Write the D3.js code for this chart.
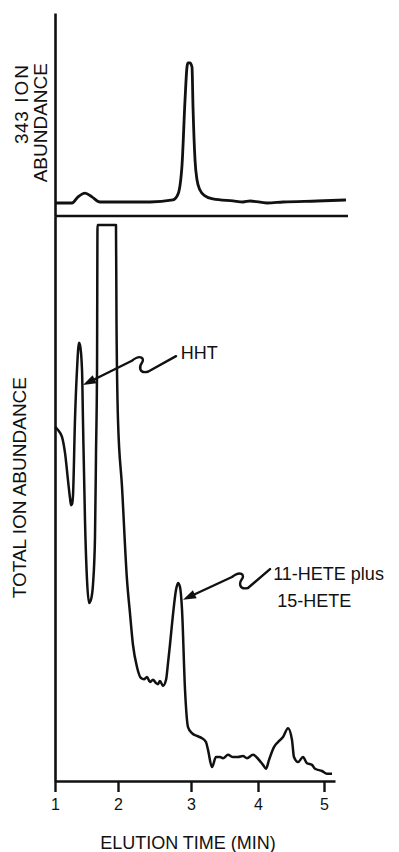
<!DOCTYPE html>
<html>
<head>
<meta charset="utf-8">
<script src="https://cdn.jsdelivr.net/npm/d3@7"></script>
<style>
  html, body { margin: 0; padding: 0; background: #fff; }
  svg { display: block; font-family: "Liberation Sans", Arial, Helvetica, sans-serif; }
</style>
</head>
<body>
<svg width="399" height="852"></svg>
<script>
// elution axis ticks (min)
const timeTicks = [1, 2, 3, 4, 5];

// 343 ion trace
const ionTime = [1.000, 1.270, 1.365, 1.476, 1.587, 1.714, 1.984, 2.438, 2.753, 2.822, 2.877, 2.918, 2.945,
  2.959, 2.986, 3.015, 3.030, 3.060, 3.090, 3.134, 3.209, 3.328, 3.627, 3.776, 3.881, 4.136, 4.379, 4.894, 5.333];
const ionAbund = [6.4, 6.4, 9.4, 11.3, 9.4, 6.9, 6.9, 6.9, 7.9, 10.8, 25.1, 57.1, 73.4,
  75.4, 75.4, 73.4, 53.7, 27.6, 17.7, 12.8, 9.9, 8.4, 7.4, 6.9, 7.4, 6.4, 6.9, 7.4, 7.9];

// total ion trace (100 = off scale)
const totalTime = [1.000, 1.048, 1.111, 1.159, 1.206, 1.238, 1.254, 1.270, 1.286, 1.317, 1.349, 1.381, 1.397,
  1.429, 1.444, 1.476, 1.508, 1.540, 1.571, 1.603, 1.635, 1.651, 1.667, 1.675, 1.968, 1.976, 2.000, 2.055,
  2.123, 2.164, 2.205, 2.260, 2.315, 2.356, 2.397, 2.438, 2.479, 2.521, 2.548, 2.575, 2.616, 2.658, 2.685,
  2.712, 2.753, 2.795, 2.822, 2.849, 2.877, 2.918, 2.959, 3.015, 3.090, 3.164, 3.224, 3.254, 3.313, 3.373,
  3.433, 3.478, 3.552, 3.627, 3.701, 3.776, 3.836, 3.925, 4.000, 4.076, 4.121, 4.167, 4.242, 4.303, 4.379,
  4.455, 4.515, 4.545, 4.606, 4.682, 4.742, 4.818, 4.864, 4.970, 5.045, 5.121];
const totalAbund = [63.7, 63.1, 61.9, 59.0, 54.1, 50.9, 49.6, 49.8, 51.4, 64.9, 73.9, 78.8, 78.4,
  73.9, 64.9, 46.9, 36.2, 32.0, 32.6, 35.3, 43.9, 59.0, 73.9, 100, 100, 82.9, 64.9, 52.9,
  36.2, 30.2, 24.5, 20.5, 18.5, 18.3, 18.7, 17.8, 18.2, 17.6, 17.4, 18.0, 17.1, 18.2, 21.2,
  24.5, 29.9, 34.4, 35.6, 34.9, 30.8, 16.4, 9.7, 8.6, 8.1, 7.7, 7.0, 5.6, 2.5, 4.3,
  4.3, 4.1, 4.7, 4.3, 4.3, 4.5, 4.1, 4.7, 4.0, 2.9, 2.2, 3.8, 6.1, 7.0, 7.9,
  9.5, 7.4, 4.3, 3.4, 4.3, 3.2, 2.9, 2.2, 1.8, 1.3, 1.3];

// peak labels and their arrows (time, total ion abundance)
const labelLines = [["HHT"], ["11-HETE plus", "15-HETE"]];
const labelTime = [2.86, 4.23];
const labelAbund = [75.9, 36.2];
const arrowStartTime = [2.795, 4.182];
const arrowStartAbund = [76.4, 38.1];
const arrowHookTime = [2.41, 3.85];
const arrowHookAbund = [73.6, 34.7];
const arrowTipTime = [1.444, 2.89];
const arrowTipAbund = [71.2, 32.6];

const svg = d3.select("svg");
const left = 55, axisEnd = 335, topLineEnd = 348;
const topY0 = 13, topBase = 216, bottomBase = 781;

// the printed axis is slightly uneven, so the scale follows the printed ticks
const x = d3.scaleLinear()
  .domain([1, 2, 3, 4, 5, 5 + (axisEnd - 324) / 66])
  .range([left, 118, 191, 258, 324, axisEnd]);

const yTop = d3.scaleLinear().domain([0, 100]).range([topBase, topY0]);
const yTotal = d3.scaleLinear().domain([0, 101.6]).range([bottomBase, topBase]);

const stroke = "#111";

// axes
svg.append("g")
  .attr("transform", `translate(${left},0)`)
  .call(d3.axisLeft(yTop).ticks(0).tickSizeOuter(0))
  .call(g => g.select(".domain").attr("stroke", stroke).attr("stroke-width", 2.6));

svg.append("g")
  .attr("transform", `translate(${left},0)`)
  .call(d3.axisLeft(yTotal).ticks(0).tickSizeOuter(0))
  .call(g => g.select(".domain").attr("stroke", stroke).attr("stroke-width", 2.6));

// baseline under the 343 trace
svg.append("line")
  .attr("x1", x(1)).attr("x2", topLineEnd)
  .attr("y1", yTop(0)).attr("y2", yTop(0))
  .attr("stroke", stroke).attr("stroke-width", 2.4);

const xAxis = svg.append("g")
  .attr("transform", `translate(0,${bottomBase})`)
  .call(d3.axisBottom(x).tickValues(timeTicks).tickFormat(d3.format("d")).tickSize(11).tickSizeOuter(0).tickPadding(7));
xAxis.select(".domain").attr("stroke", stroke).attr("stroke-width", 2.4);
xAxis.selectAll(".tick line").attr("stroke", stroke).attr("stroke-width", 2.4);
xAxis.selectAll(".tick text").attr("fill", stroke).attr("font-size", 16).attr("font-family", "Liberation Sans, Arial, sans-serif");

// traces
const ionLine = d3.line()
  .x((d, i) => x(ionTime[i]))
  .y(d => yTop(d))
  .curve(d3.curveMonotoneX);

svg.append("path")
  .attr("d", ionLine(ionAbund))
  .attr("fill", "none").attr("stroke", stroke)
  .attr("stroke-width", 2.8).attr("stroke-linejoin", "round");

const totalLine = d3.line()
  .x((d, i) => x(totalTime[i]))
  .y(d => yTotal(d))
  .curve(d3.curveMonotoneX);

svg.append("path")
  .attr("d", totalLine(totalAbund))
  .attr("fill", "none").attr("stroke", stroke)
  .attr("stroke-width", 2.5).attr("stroke-linejoin", "round");

// annotations: straight lead, an S-shaped kink, then the arrow
labelLines.forEach((lines, i) => {
  const s = [x(arrowStartTime[i]), yTotal(arrowStartAbund[i])];
  const a = [x(arrowHookTime[i]), yTotal(arrowHookAbund[i])];
  const t = [x(arrowTipTime[i]), yTotal(arrowTipAbund[i])];
  const h = [a[0] - 16, a[1] - 11];

  const ang = Math.atan2(t[1] - h[1], t[0] - h[0]);
  const len = 13, half = 4.5;
  const bx = t[0] - len * Math.cos(ang), by = t[1] - len * Math.sin(ang);

  const p = d3.path();
  p.moveTo(s[0], s[1]);
  p.lineTo(a[0], a[1]);
  p.bezierCurveTo(a[0] - 9, a[1] + 2, a[0] - 9, a[1] - 5, a[0] - 6, a[1] - 9);
  p.bezierCurveTo(a[0] - 3, a[1] - 13, a[0] - 7, a[1] - 18, h[0], h[1]);
  p.lineTo(bx, by);

  svg.append("path")
    .attr("d", p.toString())
    .attr("fill", "none").attr("stroke", stroke)
    .attr("stroke-width", 2.4).attr("stroke-linecap", "round").attr("stroke-linejoin", "round");

  svg.append("path")
    .attr("d", d3.line()([
      t,
      [bx - half * Math.sin(ang), by + half * Math.cos(ang)],
      [bx + half * Math.sin(ang), by - half * Math.cos(ang)]
    ]) + "Z")
    .attr("fill", stroke);

  const txt = svg.append("text")
    .attr("x", x(labelTime[i]))
    .attr("y", yTotal(labelAbund[i]))
    .attr("font-size", 18)
    .attr("fill", stroke);
  lines.forEach((l, j) => {
    txt.append("tspan")
      .attr("x", x(labelTime[i]) + (j ? 4 : 0))
      .attr("dy", j ? 27 : 0)
      .text(l);
  });
});

// axis titles
const topTitle = svg.append("text")
  .attr("transform", `translate(28,63) rotate(-90)`)
  .attr("text-anchor", "end")
  .attr("font-size", 19)
  .attr("fill", stroke);
topTitle.append("tspan").attr("letter-spacing", 0.5).text("343");
topTitle.append("tspan").attr("dx", 8).attr("letter-spacing", 2).text("ION");

svg.append("text")
  .attr("transform", `translate(47,63) rotate(-90)`)
  .attr("text-anchor", "end")
  .attr("font-size", 19)
  .attr("fill", stroke)
  .text("ABUNDANCE");

svg.append("text")
  .attr("transform", `translate(26,377) rotate(-90)`)
  .attr("text-anchor", "end")
  .attr("font-size", 19)
  .attr("fill", stroke)
  .text("TOTAL ION ABUNDANCE");

svg.append("text")
  .attr("x", 188)
  .attr("y", 849)
  .attr("text-anchor", "middle")
  .attr("font-size", 18)
  .attr("fill", stroke)
  .text("ELUTION TIME (MIN)");
</script>
</body>
</html>
